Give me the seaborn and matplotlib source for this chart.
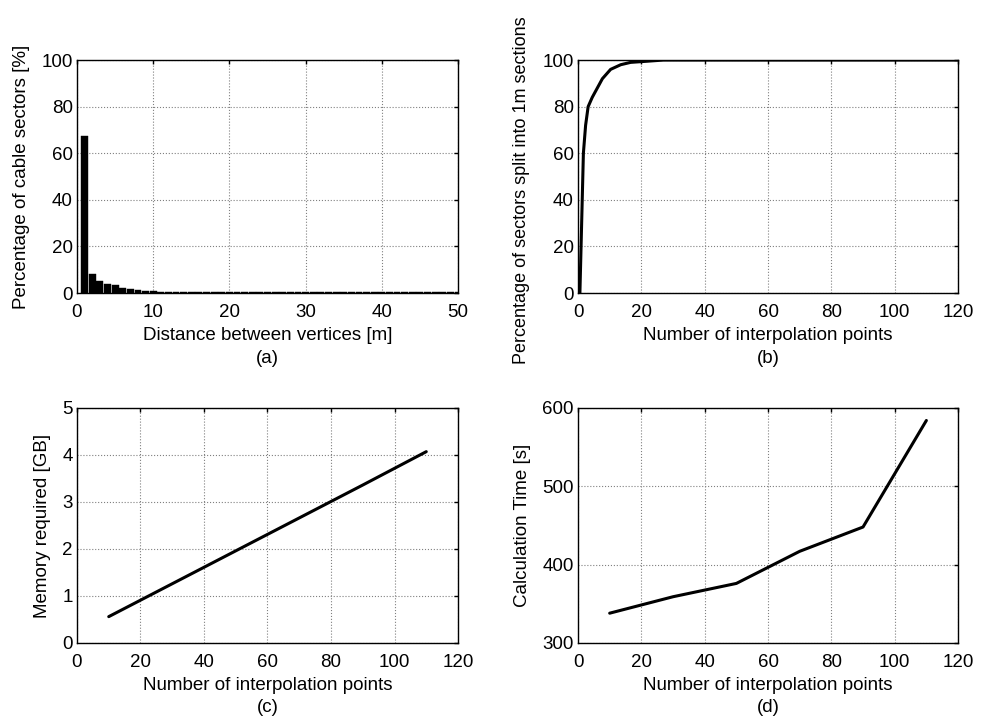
import numpy as np
import pandas as pd
import matplotlib
matplotlib.use("Agg")
import matplotlib.pyplot as plt
import seaborn as sns

# --- data ---
# (a) histogram of distance between vertices
dist_m = list(range(1, 51))
dist_pct = [67.5, 8.3, 5.2, 4.0, 3.4, 2.1, 1.6, 1.5, 0.8, 1.0,
            0.6, 0.3, 0.3, 0.3, 0.3, 0.3, 0.3, 0.3, 0.3, 0.3,
            0.3, 0.3, 0.3, 0.3, 0.3, 0.3, 0.3, 0.3, 0.3, 0.3,
            0.3, 0.3, 0.3, 0.3, 0.3, 0.3, 0.3, 0.3, 0.3, 0.3,
            0.3, 0.3, 0.3, 0.3, 0.3, 0.3, 0.3, 0.3, 0.3, 0.3]

# (b) cumulative share of sectors split into 1m sections
interp_pts_b = [0.6, 1.7, 2.4, 3.2, 4.5, 6.1, 7.7, 10.3, 13.5, 16.6, 21.9, 27, 40, 60, 80, 100, 120]
split_pct = [0, 60, 72, 80, 84, 88, 92, 96, 98, 99, 99.5, 100, 100, 100, 100, 100, 100]

# (c) memory, (d) calculation time
interp_pts = [10, 30, 50, 70, 90, 110]
memory_gb = [0.56, 1.26, 1.96, 2.66, 3.36, 4.07]
calc_time_s = [338, 359, 376, 417, 448, 584]

sns.set_style("white")
plt.rcParams['font.family'] = ['Liberation Sans', 'DejaVu Sans']
plt.rcParams['font.size'] = 13.5
plt.rcParams['text.color'] = 'black'
plt.rcParams['axes.labelcolor'] = 'black'
plt.rcParams['xtick.color'] = 'black'
plt.rcParams['ytick.color'] = 'black'


def matlab_style(ax):
    ax.grid(True, color='#808080', linestyle=':', linewidth=0.8)
    ax.tick_params(direction='in', top=True, right=True, length=3, width=1,
                   labelsize=13.5, colors='black')
    ax.tick_params(axis='x', pad=8)
    ax.tick_params(axis='y', pad=3)
    for s in ax.spines.values():
        s.set_color('black')
        s.set_linewidth(1.0)
    ax.set_axisbelow(True)


fig = plt.figure(figsize=(9.82, 7.2), dpi=100)
ax_a = fig.add_axes([0.0784, 0.593, 0.388, 0.3236])
ax_b = fig.add_axes([0.5886, 0.593, 0.387, 0.3236])
ax_c = fig.add_axes([0.0784, 0.107, 0.388, 0.3264])
ax_d = fig.add_axes([0.5886, 0.107, 0.387, 0.3264])

# (a)
ax_a.bar(dist_m, dist_pct, width=0.9, color='black', edgecolor='black', linewidth=0.3)
ax_a.set_xlim(0, 50)
ax_a.set_ylim(0, 100)
ax_a.set_xticks(range(0, 51, 10))
ax_a.set_yticks(range(0, 101, 20))
ax_a.set_xlabel('Distance between vertices [m]\n(a)', linespacing=1.45, labelpad=4)
ax_a.set_ylabel('Percentage of cable sectors [%]', labelpad=8)
matlab_style(ax_a)

# (b)
sns.lineplot(x=interp_pts_b, y=split_pct, ax=ax_b, color='black', linewidth=2.2)
ax_b.set_xlim(0, 120)
ax_b.set_ylim(0, 100)
ax_b.set_xticks(range(0, 121, 20))
ax_b.set_yticks(range(0, 101, 20))
ax_b.set_xlabel('Number of interpolation points\n(b)', linespacing=1.45, labelpad=4)
ax_b.set_ylabel('Percentage of sectors split into 1m sections', fontsize=13)
ax_b.yaxis.set_label_coords(-0.127, 0.44)
matlab_style(ax_b)

# (c)
sns.lineplot(x=interp_pts, y=memory_gb, ax=ax_c, color='black', linewidth=2.2)
ax_c.set_xlim(0, 120)
ax_c.set_ylim(0, 5)
ax_c.set_xticks(range(0, 121, 20))
ax_c.set_yticks(range(0, 6))
ax_c.set_xlabel('Number of interpolation points\n(c)', linespacing=1.45, labelpad=4)
ax_c.set_ylabel('Memory required [GB]', labelpad=8)
matlab_style(ax_c)

# (d)
sns.lineplot(x=interp_pts, y=calc_time_s, ax=ax_d, color='black', linewidth=2.2)
ax_d.set_xlim(0, 120)
ax_d.set_ylim(300, 600)
ax_d.set_xticks(range(0, 121, 20))
ax_d.set_yticks(range(300, 601, 100))
ax_d.set_xlabel('Number of interpolation points\n(d)', linespacing=1.45, labelpad=4)
ax_d.set_ylabel('Calculation Time [s]', labelpad=8)
matlab_style(ax_d)

fig.savefig('out.png', dpi=100, facecolor='white')
